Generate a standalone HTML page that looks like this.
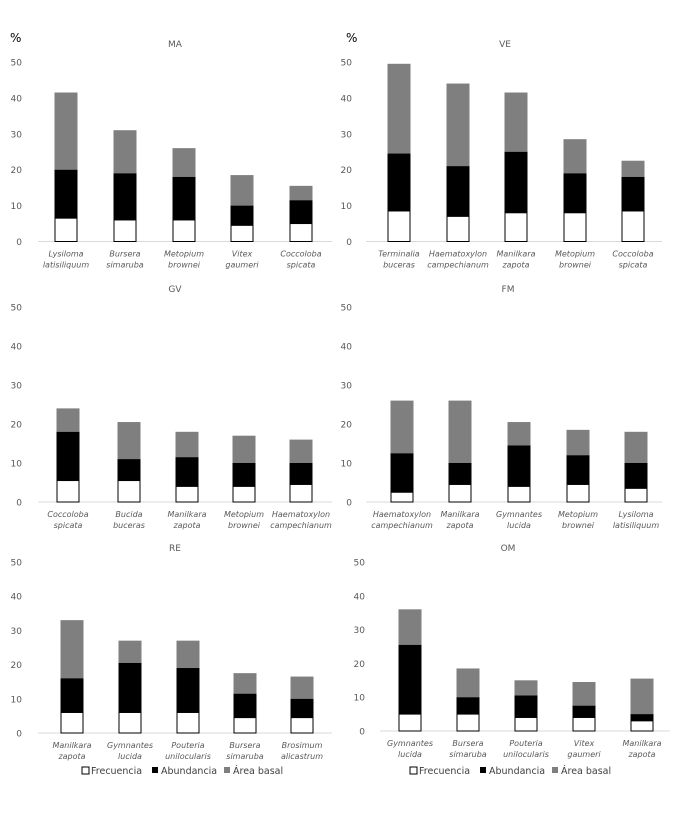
<!DOCTYPE html>
<html><head><meta charset="utf-8"><style>
body{margin:0;background:#fff;}
svg{display:block;font-family:"DejaVu Sans","Liberation Sans",sans-serif;}
</style></head><body>
<svg id="s" width="694" height="830" viewBox="0 0 694 830"></svg>
<script>
const P=[
{t:"MA",tx:175,ty:47,lx:22,ax0:38,ax1:332,b:241.5,top:62,c:[66,125,184,242,301],
 n:[["Lysiloma","latisiliquum"],["Bursera","simaruba"],["Metopium","brownei"],["Vitex","gaumeri"],["Coccoloba","spicata"]],
 v:[[6.5,20,41.5],[6,19,31],[6,18,26],[4.5,10,18.5],[5,11.5,15.5]]},
{t:"VE",tx:505,ty:47,lx:352,ax0:366,ax1:662,b:241.5,top:62,c:[399,458,516,575,633],
 n:[["Terminalia","buceras"],["Haematoxylon","campechianum"],["Manilkara","zapota"],["Metopium","brownei"],["Coccoloba","spicata"]],
 v:[[8.5,24.5,49.5],[7,21,44],[8,25,41.5],[8,19,28.5],[8.5,18,22.5]]},
{t:"GV",tx:175,ty:292,lx:22,ax0:38,ax1:332,b:502,top:307,c:[68,129,187,244,301],
 n:[["Coccoloba","spicata"],["Bucida","buceras"],["Manilkara","zapota"],["Metopium","brownei"],["Haematoxylon","campechianum"]],
 v:[[5.5,18,24],[5.5,11,20.5],[4,11.5,18],[4,10,17],[4.5,10,16]]},
{t:"FM",tx:508,ty:292,lx:352,ax0:366,ax1:662,b:502,top:307,c:[402,460,519,578,636],
 n:[["Haematoxylon","campechianum"],["Manilkara","zapota"],["Gymnantes","lucida"],["Metopium","brownei"],["Lysiloma","latisiliquum"]],
 v:[[2.5,12.5,26],[4.5,10,26],[4,14.5,20.5],[4.5,12,18.5],[3.5,10,18]]},
{t:"RE",tx:175,ty:551,lx:22,ax0:38,ax1:332,b:733,top:562,c:[72,130,188,245,302],
 n:[["Manilkara","zapota"],["Gymnantes","lucida"],["Pouteria","unilocularis"],["Bursera","simaruba"],["Brosimum","alicastrum"]],
 v:[[6,16,33],[6,20.5,27],[6,19,27],[4.5,11.5,17.5],[4.5,10,16.5]]},
{t:"OM",tx:508,ty:551,lx:365,ax0:380,ax1:670,b:731,top:562,c:[410,468,526,584,642],
 n:[["Gymnantes","lucida"],["Bursera","simaruba"],["Pouteria","unilocularis"],["Vitex","gaumeri"],["Manilkara","zapota"]],
 v:[[5,25.5,36],[5,10,18.5],[4,10.5,15],[4,7.5,14.5],[3,5,15.5]]}
];
let h='<text x="10" y="42" font-size="12" fill="#000">%</text><text x="346" y="42" font-size="12" fill="#000">%</text>';
for(const p of P){
 const k=(p.b-p.top)/50;
 h+=`<text x="${p.tx}" y="${p.ty}" font-size="9" fill="#595959" text-anchor="middle">${p.t}</text>`;
 for(let i=0;i<=5;i++){const y=p.b-i*10*k;h+=`<text x="${p.lx}" y="${y+3.5}" font-size="9" fill="#595959" text-anchor="end">${i*10}</text>`;}
 h+=`<line x1="${p.ax0}" x2="${p.ax1}" y1="${p.b}" y2="${p.b}" stroke="#d9d9d9" stroke-width="1"/>`;
 p.v.forEach((v,i)=>{const x=p.c[i]-11.5,w=23;
  const y0=p.b-v[0]*k,y1=p.b-v[1]*k,y2=p.b-v[2]*k;
  h+=`<rect x="${x}" y="${y2}" width="${w}" height="${y1-y2}" fill="#7f7f7f"/>`;
  h+=`<rect x="${x}" y="${y1}" width="${w}" height="${y0-y1}" fill="#000"/>`;
  h+=`<rect x="${x+0.5}" y="${y0}" width="${w-1}" height="${p.b-y0}" fill="#fff" stroke="#000" stroke-width="1"/>`;
  h+=`<text x="${p.c[i]}" y="${p.b+15}" font-size="8" font-style="italic" fill="#595959" text-anchor="middle">${p.n[i][0]}</text>`;
  h+=`<text x="${p.c[i]}" y="${p.b+26}" font-size="8" font-style="italic" fill="#595959" text-anchor="middle">${p.n[i][1]}</text>`;
 });
}
function leg(x,y){return `<rect x="${x}" y="${y-7}" width="7" height="7" fill="#fff" stroke="#000"/><text x="${x+9}" y="${y}" font-size="9.5" fill="#404040">Frecuencia</text>
<rect x="${x+70}" y="${y-7}" width="6" height="6" fill="#000"/><text x="${x+79}" y="${y}" font-size="9.5" fill="#404040">Abundancia</text>
<rect x="${x+142}" y="${y-7}" width="6" height="6" fill="#7f7f7f"/><text x="${x+151}" y="${y}" font-size="9.5" fill="#404040">Área basal</text>`;}
h+=leg(82,774)+leg(410,774);
document.getElementById('s').innerHTML=h;
</script>
</body></html>
